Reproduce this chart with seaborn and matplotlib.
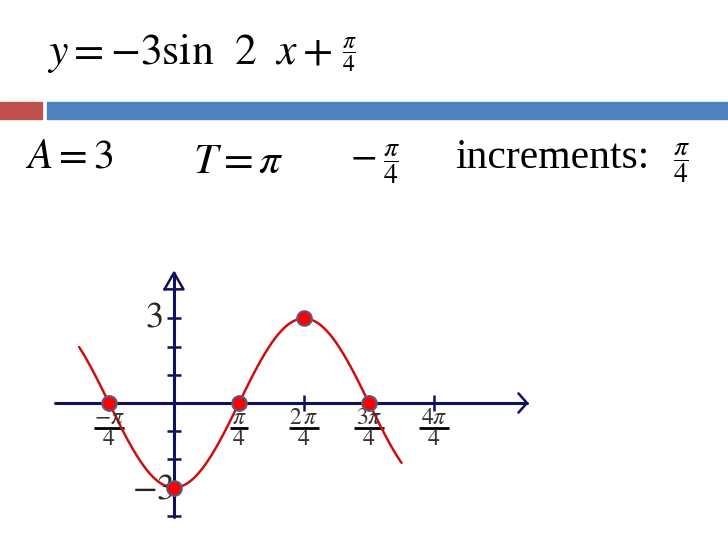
import numpy as np
import pandas as pd
import seaborn as sns
import matplotlib.pyplot as plt
from matplotlib.patches import Rectangle

# parameters written on the slide
amplitude = 3
period = np.pi
phase_shift = -np.pi / 4
step = np.pi / 4          # x axis counts in steps of pi/4
x_start, x_end = -1.46, 3.5

# key points marked on the graph (x in steps of pi/4)
key_x = [-1, 0, 1, 2, 3]
key_y = [0, -3, 0, 3, 0]

xtick_pos = [-1, 1, 2, 3, 4]
xtick_num = [r"$-\pi$", r"$\pi$", r"$2\,\pi$", r"$3\pi$", r"$4\pi$"]
xtick_den = "4"
ytick_pos = [-4, -3, -2, -1, 1, 2, 3]
ylabel_pos = [3, -3]
ylabel_text = [r"$3$", r"$-3$"]

navy = "#10105e"
W, H = 728, 546

sns.set_style("white")
plt.rcParams["mathtext.fontset"] = "stix"
plt.rcParams["font.family"] = ["Liberation Serif", "DejaVu Serif"]

fig = plt.figure(figsize=(7.28, 5.46), dpi=100)

# slide header bars
fig.patches.append(Rectangle((0, 1 - 119 / H), 42 / W, 17 / H, transform=fig.transFigure,
                             color="#C0504D", zorder=0))
fig.patches.append(Rectangle((47 / W, 1 - 119 / H), 1 - 47 / W, 17 / H, transform=fig.transFigure,
                             color="#4F81BD", zorder=0))

def put(x, y, s, size, **kw):
    fig.text(x / W, 1 - y / H, s, fontsize=size, color="black", **kw)

put(47, 64, r"$y = -3\mathrm{sin}\ \ 2\ \ x +$", 31.5, va="baseline", ha="left")
put(349, 55, r"$\dfrac{\pi}{4}$", 17, va="center", ha="center")
put(25, 167, r"$A = 3$", 30, va="baseline", ha="left")
put(193, 173, r"$T = \pi$", 31, va="baseline", ha="left")
put(363, 157, r"$-$", 28, va="center", ha="center")
put(391, 164, r"$\dfrac{\pi}{4}$", 20, va="center", ha="center")
put(455, 168, "increments:", 30, va="baseline", ha="left")
put(681, 163, r"$\dfrac{\pi}{4}$", 20, va="center", ha="center")

# graph axes: pixel mapping px = 174 + 65*u, py = 403 - 28.2*y
left_px, right_px, top_px, bot_px = 50, 540, 265, 540
ax = fig.add_axes([left_px / W, 1 - bot_px / H, (right_px - left_px) / W, (bot_px - top_px) / H])
ax.set_xlim((left_px - 174) / 65, (right_px - 174) / 65)
ax.set_ylim((403 - bot_px) / 28.2, (403 - top_px) / 28.2)
ax.axis("off")

# coordinate axes
ax.plot([-1.83, 5.43], [0, 0], color=navy, lw=2.2, zorder=1)
ax.plot([0, 0], [-4.05, 4.62], color=navy, lw=2.2, zorder=1)
ax.plot([-0.146, 0, 0.146, -0.146], [4.03, 4.62, 4.03, 4.03], color=navy, lw=1.8, zorder=1)
ax.plot([5.3, 5.43, 5.3], [0.34, 0, -0.34], color=navy, lw=1.8, zorder=1)
ax.vlines(xtick_pos, -0.28, 0.28, color=navy, lw=1.8, zorder=1)
ax.hlines(ytick_pos, -0.115, 0.115, color=navy, lw=1.8, zorder=1)

# tick labels as stacked fractions
for u, num in zip(xtick_pos, xtick_num):
    half = 0.14 if num == r"$\pi$" else 0.23
    ax.text(u, -0.74, num, fontsize=17, color="#333333", ha="center", va="baseline")
    ax.hlines(-0.89, u - half, u + half, color="black", lw=2, zorder=1)
    ax.text(u, -1.49, xtick_den, fontsize=17, color="#333333", ha="center", va="baseline",
            family="STIXGeneral")
ax.text(-0.17, 3, ylabel_text[0], fontsize=26, ha="right", va="center")
ax.text(0.0, -3.1, ylabel_text[1], fontsize=26, ha="right", va="center")

# the curve y = -A sin(2pi/T (x - shift))
u = np.linspace(x_start, x_end, 400)
curve = pd.DataFrame({"u": u, "y": -amplitude * np.sin(2 * np.pi / period * (u * step - phase_shift))})
sns.lineplot(data=curve, x="u", y="y", color="#cc1010", lw=1.8, ax=ax, zorder=2)

points = pd.DataFrame({"u": key_x, "y": key_y})
sns.scatterplot(data=points, x="u", y="y", s=110, color="#ff0000", edgecolor="#5a5a80",
                linewidth=1.5, ax=ax, zorder=3)
ax.axis("off")

fig.savefig("out.png", dpi=100)
